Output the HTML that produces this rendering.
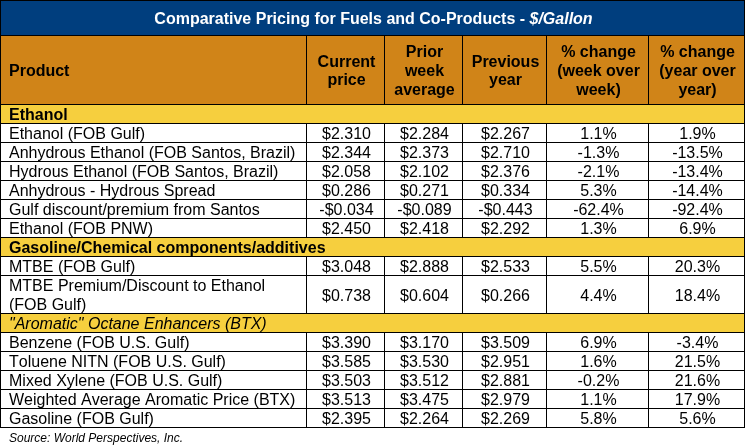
<!DOCTYPE html><html><head><meta charset="utf-8"><title>Comparative Pricing</title><style>
html,body{margin:0;padding:0;background:#fff;}
body{width:745px;height:448px;overflow:hidden;}
#w{font-kerning:none;position:absolute;left:0;top:0;width:745px;height:448px;overflow:hidden;background:#fff;will-change:transform;font-family:"Liberation Sans",sans-serif;font-size:16px;color:#000;}
.r{position:absolute;}
.l{position:absolute;background:#000;}
.t{position:absolute;white-space:nowrap;line-height:18px;height:18px;}
.c{text-align:center;}
.b{font-weight:bold;}
.i{font-style:italic;}
.h{position:absolute;text-align:center;font-weight:bold;line-height:19px;display:flex;align-items:center;justify-content:center;}

</style></head><body><div id="w">
<div class="r" style="left:0;top:0;width:745px;height:36px;background:#003e7e"></div>
<div class="r" style="left:0;top:36px;width:745px;height:69px;background:#d08418"></div>
<div class="t b" style="left:1px;top:10px;width:745px;text-align:center;color:#fff;">Comparative Pricing for Fuels and Co-Products - <span class="i">$/Gallon</span></div>
<div class="h" style="left:9px;top:36px;height:68px;justify-content:flex-start;">Product</div>
<div class="h" style="left:308px;top:36px;width:77px;height:68px;line-height:18px;padding-top:1px;">Current<br>price</div>
<div class="h" style="left:386px;top:36px;width:77px;height:68px;">Prior<br>week<br>average</div>
<div class="h" style="left:464px;top:36px;width:83px;height:68px;line-height:18px;padding-top:1px;">Previous<br>year</div>
<div class="h" style="left:548px;top:36px;width:101px;height:68px;">% change<br>(week over<br>week)</div>
<div class="h" style="left:650px;top:36px;width:95px;height:68px;">% change<br>(year over<br>year)</div>
<div class="r" style="left:0;top:105px;width:745px;height:18px;background:#f6cf3e"></div>
<div class="t b" style="left:9px;top:106px;">Ethanol</div>
<div class="t" style="left:9px;top:125px;">Ethanol (FOB Gulf)</div>
<div class="t c" style="left:308px;top:125px;width:77px;">$2.310</div>
<div class="t c" style="left:386px;top:125px;width:77px;">$2.284</div>
<div class="t c" style="left:464px;top:125px;width:83px;">$2.267</div>
<div class="t c" style="left:548px;top:125px;width:101px;">1.1%</div>
<div class="t c" style="left:650px;top:125px;width:95px;">1.9%</div>
<div class="t" style="left:9px;top:144px;">Anhydrous Ethanol (FOB Santos, Brazil)</div>
<div class="t c" style="left:308px;top:144px;width:77px;">$2.344</div>
<div class="t c" style="left:386px;top:144px;width:77px;">$2.373</div>
<div class="t c" style="left:464px;top:144px;width:83px;">$2.710</div>
<div class="t c" style="left:548px;top:144px;width:101px;">-1.3%</div>
<div class="t c" style="left:650px;top:144px;width:95px;">-13.5%</div>
<div class="t" style="left:9px;top:163px;">Hydrous Ethanol (FOB Santos, Brazil)</div>
<div class="t c" style="left:308px;top:163px;width:77px;">$2.058</div>
<div class="t c" style="left:386px;top:163px;width:77px;">$2.102</div>
<div class="t c" style="left:464px;top:163px;width:83px;">$2.376</div>
<div class="t c" style="left:548px;top:163px;width:101px;">-2.1%</div>
<div class="t c" style="left:650px;top:163px;width:95px;">-13.4%</div>
<div class="t" style="left:9px;top:182px;">Anhydrous - Hydrous Spread</div>
<div class="t c" style="left:308px;top:182px;width:77px;">$0.286</div>
<div class="t c" style="left:386px;top:182px;width:77px;">$0.271</div>
<div class="t c" style="left:464px;top:182px;width:83px;">$0.334</div>
<div class="t c" style="left:548px;top:182px;width:101px;">5.3%</div>
<div class="t c" style="left:650px;top:182px;width:95px;">-14.4%</div>
<div class="t" style="left:9px;top:201px;">Gulf discount/premium from Santos</div>
<div class="t c" style="left:308px;top:201px;width:77px;">-$0.034</div>
<div class="t c" style="left:386px;top:201px;width:77px;">-$0.089</div>
<div class="t c" style="left:464px;top:201px;width:83px;">-$0.443</div>
<div class="t c" style="left:548px;top:201px;width:101px;">-62.4%</div>
<div class="t c" style="left:650px;top:201px;width:95px;">-92.4%</div>
<div class="t" style="left:9px;top:220px;">Ethanol (FOB PNW)</div>
<div class="t c" style="left:308px;top:220px;width:77px;">$2.450</div>
<div class="t c" style="left:386px;top:220px;width:77px;">$2.418</div>
<div class="t c" style="left:464px;top:220px;width:83px;">$2.292</div>
<div class="t c" style="left:548px;top:220px;width:101px;">1.3%</div>
<div class="t c" style="left:650px;top:220px;width:95px;">6.9%</div>
<div class="r" style="left:0;top:238px;width:745px;height:18px;background:#f6cf3e"></div>
<div class="t b" style="left:9px;top:239px;">Gasoline/Chemical components/additives</div>
<div class="t" style="left:9px;top:258px;">MTBE (FOB Gulf)</div>
<div class="t c" style="left:308px;top:258px;width:77px;">$3.048</div>
<div class="t c" style="left:386px;top:258px;width:77px;">$2.888</div>
<div class="t c" style="left:464px;top:258px;width:83px;">$2.533</div>
<div class="t c" style="left:548px;top:258px;width:101px;">5.5%</div>
<div class="t c" style="left:650px;top:258px;width:95px;">20.3%</div>
<div class="t" style="left:9px;top:276px;height:37px;line-height:19px;">MTBE Premium/Discount to Ethanol<br>(FOB Gulf)</div>
<div class="t c" style="left:308px;top:287px;width:77px;">$0.738</div>
<div class="t c" style="left:386px;top:287px;width:77px;">$0.604</div>
<div class="t c" style="left:464px;top:287px;width:83px;">$0.266</div>
<div class="t c" style="left:548px;top:287px;width:101px;">4.4%</div>
<div class="t c" style="left:650px;top:287px;width:95px;">18.4%</div>
<div class="r" style="left:0;top:314px;width:745px;height:18px;background:#f6cf3e"></div>
<div class="t i" style="left:9px;top:315px;">"Aromatic" Octane Enhancers (BTX)</div>
<div class="t" style="left:9px;top:334px;">Benzene (FOB U.S. Gulf)</div>
<div class="t c" style="left:308px;top:334px;width:77px;">$3.390</div>
<div class="t c" style="left:386px;top:334px;width:77px;">$3.170</div>
<div class="t c" style="left:464px;top:334px;width:83px;">$3.509</div>
<div class="t c" style="left:548px;top:334px;width:101px;">6.9%</div>
<div class="t c" style="left:650px;top:334px;width:95px;">-3.4%</div>
<div class="t" style="left:9px;top:353px;">Toluene NITN (FOB U.S. Gulf)</div>
<div class="t c" style="left:308px;top:353px;width:77px;">$3.585</div>
<div class="t c" style="left:386px;top:353px;width:77px;">$3.530</div>
<div class="t c" style="left:464px;top:353px;width:83px;">$2.951</div>
<div class="t c" style="left:548px;top:353px;width:101px;">1.6%</div>
<div class="t c" style="left:650px;top:353px;width:95px;">21.5%</div>
<div class="t" style="left:9px;top:372px;">Mixed Xylene (FOB U.S. Gulf)</div>
<div class="t c" style="left:308px;top:372px;width:77px;">$3.503</div>
<div class="t c" style="left:386px;top:372px;width:77px;">$3.512</div>
<div class="t c" style="left:464px;top:372px;width:83px;">$2.881</div>
<div class="t c" style="left:548px;top:372px;width:101px;">-0.2%</div>
<div class="t c" style="left:650px;top:372px;width:95px;">21.6%</div>
<div class="t" style="left:9px;top:391px;">Weighted Average Aromatic Price (BTX)</div>
<div class="t c" style="left:308px;top:391px;width:77px;">$3.513</div>
<div class="t c" style="left:386px;top:391px;width:77px;">$3.475</div>
<div class="t c" style="left:464px;top:391px;width:83px;">$2.979</div>
<div class="t c" style="left:548px;top:391px;width:101px;">1.1%</div>
<div class="t c" style="left:650px;top:391px;width:95px;">17.9%</div>
<div class="t" style="left:9px;top:410px;">Gasoline (FOB Gulf)</div>
<div class="t c" style="left:308px;top:410px;width:77px;">$2.395</div>
<div class="t c" style="left:386px;top:410px;width:77px;">$2.264</div>
<div class="t c" style="left:464px;top:410px;width:83px;">$2.269</div>
<div class="t c" style="left:548px;top:410px;width:101px;">5.8%</div>
<div class="t c" style="left:650px;top:410px;width:95px;">5.6%</div>
<div class="l" style="left:0;top:0px;width:745px;height:1px"></div>
<div class="l" style="left:0;top:35px;width:745px;height:1px"></div>
<div class="l" style="left:0;top:104px;width:745px;height:1px"></div>
<div class="l" style="left:0;top:123px;width:745px;height:1px"></div>
<div class="l" style="left:0;top:142px;width:745px;height:1px"></div>
<div class="l" style="left:0;top:161px;width:745px;height:1px"></div>
<div class="l" style="left:0;top:180px;width:745px;height:1px"></div>
<div class="l" style="left:0;top:199px;width:745px;height:1px"></div>
<div class="l" style="left:0;top:218px;width:745px;height:1px"></div>
<div class="l" style="left:0;top:237px;width:745px;height:1px"></div>
<div class="l" style="left:0;top:256px;width:745px;height:1px"></div>
<div class="l" style="left:0;top:275px;width:745px;height:1px"></div>
<div class="l" style="left:0;top:313px;width:745px;height:1px"></div>
<div class="l" style="left:0;top:332px;width:745px;height:1px"></div>
<div class="l" style="left:0;top:351px;width:745px;height:1px"></div>
<div class="l" style="left:0;top:370px;width:745px;height:1px"></div>
<div class="l" style="left:0;top:389px;width:745px;height:1px"></div>
<div class="l" style="left:0;top:408px;width:745px;height:1px"></div>
<div class="l" style="left:0;top:427px;width:745px;height:1px"></div>
<div class="l" style="left:0;top:0;width:1px;height:428px"></div>
<div class="l" style="left:744px;top:0;width:1px;height:428px"></div>
<div class="l" style="left:306px;top:35px;width:1px;height:69px"></div>
<div class="l" style="left:384px;top:35px;width:1px;height:69px"></div>
<div class="l" style="left:462px;top:35px;width:1px;height:69px"></div>
<div class="l" style="left:546px;top:35px;width:1px;height:69px"></div>
<div class="l" style="left:648px;top:35px;width:1px;height:69px"></div>
<div class="l" style="left:306px;top:123px;width:1px;height:19px"></div>
<div class="l" style="left:384px;top:123px;width:1px;height:19px"></div>
<div class="l" style="left:462px;top:123px;width:1px;height:19px"></div>
<div class="l" style="left:546px;top:123px;width:1px;height:19px"></div>
<div class="l" style="left:648px;top:123px;width:1px;height:19px"></div>
<div class="l" style="left:306px;top:142px;width:1px;height:19px"></div>
<div class="l" style="left:384px;top:142px;width:1px;height:19px"></div>
<div class="l" style="left:462px;top:142px;width:1px;height:19px"></div>
<div class="l" style="left:546px;top:142px;width:1px;height:19px"></div>
<div class="l" style="left:648px;top:142px;width:1px;height:19px"></div>
<div class="l" style="left:306px;top:161px;width:1px;height:19px"></div>
<div class="l" style="left:384px;top:161px;width:1px;height:19px"></div>
<div class="l" style="left:462px;top:161px;width:1px;height:19px"></div>
<div class="l" style="left:546px;top:161px;width:1px;height:19px"></div>
<div class="l" style="left:648px;top:161px;width:1px;height:19px"></div>
<div class="l" style="left:306px;top:180px;width:1px;height:19px"></div>
<div class="l" style="left:384px;top:180px;width:1px;height:19px"></div>
<div class="l" style="left:462px;top:180px;width:1px;height:19px"></div>
<div class="l" style="left:546px;top:180px;width:1px;height:19px"></div>
<div class="l" style="left:648px;top:180px;width:1px;height:19px"></div>
<div class="l" style="left:306px;top:199px;width:1px;height:19px"></div>
<div class="l" style="left:384px;top:199px;width:1px;height:19px"></div>
<div class="l" style="left:462px;top:199px;width:1px;height:19px"></div>
<div class="l" style="left:546px;top:199px;width:1px;height:19px"></div>
<div class="l" style="left:648px;top:199px;width:1px;height:19px"></div>
<div class="l" style="left:306px;top:218px;width:1px;height:19px"></div>
<div class="l" style="left:384px;top:218px;width:1px;height:19px"></div>
<div class="l" style="left:462px;top:218px;width:1px;height:19px"></div>
<div class="l" style="left:546px;top:218px;width:1px;height:19px"></div>
<div class="l" style="left:648px;top:218px;width:1px;height:19px"></div>
<div class="l" style="left:306px;top:256px;width:1px;height:19px"></div>
<div class="l" style="left:384px;top:256px;width:1px;height:19px"></div>
<div class="l" style="left:462px;top:256px;width:1px;height:19px"></div>
<div class="l" style="left:546px;top:256px;width:1px;height:19px"></div>
<div class="l" style="left:648px;top:256px;width:1px;height:19px"></div>
<div class="l" style="left:306px;top:275px;width:1px;height:38px"></div>
<div class="l" style="left:384px;top:275px;width:1px;height:38px"></div>
<div class="l" style="left:462px;top:275px;width:1px;height:38px"></div>
<div class="l" style="left:546px;top:275px;width:1px;height:38px"></div>
<div class="l" style="left:648px;top:275px;width:1px;height:38px"></div>
<div class="l" style="left:306px;top:332px;width:1px;height:19px"></div>
<div class="l" style="left:384px;top:332px;width:1px;height:19px"></div>
<div class="l" style="left:462px;top:332px;width:1px;height:19px"></div>
<div class="l" style="left:546px;top:332px;width:1px;height:19px"></div>
<div class="l" style="left:648px;top:332px;width:1px;height:19px"></div>
<div class="l" style="left:306px;top:351px;width:1px;height:19px"></div>
<div class="l" style="left:384px;top:351px;width:1px;height:19px"></div>
<div class="l" style="left:462px;top:351px;width:1px;height:19px"></div>
<div class="l" style="left:546px;top:351px;width:1px;height:19px"></div>
<div class="l" style="left:648px;top:351px;width:1px;height:19px"></div>
<div class="l" style="left:306px;top:370px;width:1px;height:19px"></div>
<div class="l" style="left:384px;top:370px;width:1px;height:19px"></div>
<div class="l" style="left:462px;top:370px;width:1px;height:19px"></div>
<div class="l" style="left:546px;top:370px;width:1px;height:19px"></div>
<div class="l" style="left:648px;top:370px;width:1px;height:19px"></div>
<div class="l" style="left:306px;top:389px;width:1px;height:19px"></div>
<div class="l" style="left:384px;top:389px;width:1px;height:19px"></div>
<div class="l" style="left:462px;top:389px;width:1px;height:19px"></div>
<div class="l" style="left:546px;top:389px;width:1px;height:19px"></div>
<div class="l" style="left:648px;top:389px;width:1px;height:19px"></div>
<div class="l" style="left:306px;top:408px;width:1px;height:19px"></div>
<div class="l" style="left:384px;top:408px;width:1px;height:19px"></div>
<div class="l" style="left:462px;top:408px;width:1px;height:19px"></div>
<div class="l" style="left:546px;top:408px;width:1px;height:19px"></div>
<div class="l" style="left:648px;top:408px;width:1px;height:19px"></div>
<div class="t i" style="left:9px;top:429px;font-size:12px;">Source: World Perspectives, Inc.</div>
</div></body></html>
